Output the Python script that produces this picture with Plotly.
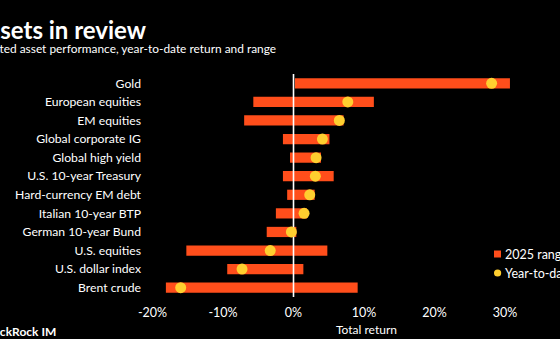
import plotly.graph_objects as go

categories = ["Gold", "European equities", "EM equities", "Global corporate IG",
              "Global high yield", "U.S. 10-year Treasury", "Hard-currency EM debt",
              "Italian 10-year BTP", "German 10-year Bund", "U.S. equities",
              "U.S. dollar index", "Brent crude"]
range_low = [0.2, -5.7, -7.0, -1.5, -0.5, -1.5, -0.9, -2.5, -3.8, -15.2, -9.4, -18.1]
range_high = [30.7, 11.4, 7.1, 5.1, 3.9, 5.7, 3.0, 1.9, 0.4, 4.8, 1.4, 9.1]
ytd = [28.1, 7.7, 6.5, 4.1, 3.2, 3.1, 2.3, 1.5, -0.3, -3.3, -7.3, -16.0]
x_ticks = [-20, -10, 0, 10, 20, 30]
x_tick_labels = ["-20%", "-10%", "0%", "10%", "20%", "30%"]

BAR = "#FF4E1B"
DOT = "#FFCF2F"
FONT = "Lato"

idx = list(range(len(categories)))
W, H = 560, 339
L, R, T, B = 145, 0, 74, 42
pw, ph = W - L - R, H - T - B

def px(p):
    return (p - L) / pw

def py(p):
    return (H - B - p) / ph

fig = go.Figure()
fig.add_trace(go.Bar(
    y=idx, x=[h - l for l, h in zip(range_low, range_high)], base=range_low,
    orientation="h", marker=dict(color=BAR, line=dict(width=0)), width=0.55,
    name="2025 range", showlegend=False, hoverinfo="skip"))
fig.add_trace(go.Scatter(
    x=[0, 0], y=[-0.5, len(categories) - 0.5], mode="lines",
    line=dict(color="white", width=1.6), showlegend=False, hoverinfo="skip",
    cliponaxis=False))
fig.add_trace(go.Scatter(
    y=idx, x=ytd, mode="markers", marker=dict(color=DOT, size=11, line=dict(width=0)),
    name="Year-to-date", showlegend=False, cliponaxis=False))

fig.update_layout(
    width=W, height=H, paper_bgcolor="black", plot_bgcolor="black",
    margin=dict(l=L, r=R, t=T, b=B), bargap=0.45,
    font=dict(family=FONT, color="white", size=12),
    xaxis=dict(range=[(L - 293.5) / 7.05, (W - R - 293.5) / 7.05],
               tickvals=x_ticks, ticktext=x_tick_labels, showgrid=False,
               zeroline=False, showline=False, ticks="", ticklabelstandoff=6,
               tickfont=dict(size=12.5, color="white")),
    yaxis=dict(range=[len(categories) - 0.5, -0.5], tickvals=idx, ticktext=categories,
               showgrid=False, zeroline=False, showline=False, ticks="",
               ticklabelstandoff=3,
               tickfont=dict(size=12.2, color="white")),
)

ann = [
    dict(text="<b>Assets in review</b>", x=px(-30), y=py(29), font=dict(size=24)),
    dict(text="Selected asset performance, year-to-date return and range",
         x=px(-30), y=py(48), font=dict(size=11.9)),
    dict(text="<b>BlackRock IM</b>", x=px(-19), y=py(331), font=dict(size=12)),
    dict(text="Total return", x=px(334), y=py(329), font=dict(size=12)),
    dict(text="2025 range", x=px(503), y=py(254), font=dict(size=12.5)),
    dict(text="Year-to-date", x=px(503), y=py(273), font=dict(size=12.5)),
]
for a in ann:
    fig.add_annotation(xref="paper", yref="paper", xanchor="left", yanchor="middle",
                       showarrow=False, font_color="white", font_family=FONT, **a)

fig.add_shape(type="rect", xref="paper", yref="paper", x0=px(494), x1=px(501),
              y0=py(257.5), y1=py(250.5), fillcolor=BAR, line_width=0)
fig.add_shape(type="circle", xref="paper", yref="paper", x0=px(494), x1=px(501.2),
              y0=py(276.6), y1=py(269.4), fillcolor=DOT, line_width=0)

fig.write_html("out.html")
